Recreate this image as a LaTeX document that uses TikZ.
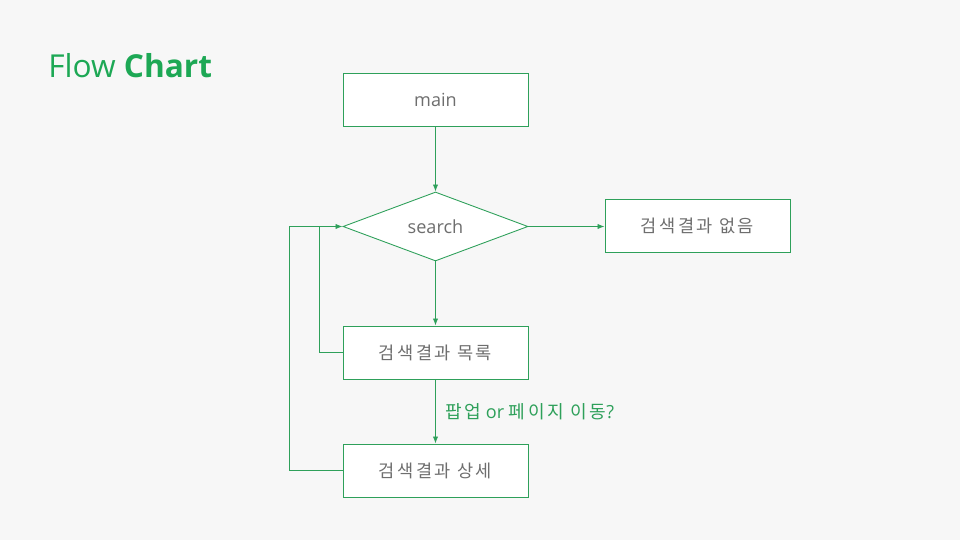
\documentclass[tikz,border=0pt]{standalone}
\usepackage{fontspec}
\setmainfont{Open Sans}
\newfontfamily\kor[LetterSpace=14]{Noto Sans CJK KR}
\usetikzlibrary{arrows.meta,shapes.geometric,calc}

\definecolor{bggray}{HTML}{F7F7F7}
\definecolor{linegreen}{HTML}{2EA05A}
\definecolor{titlegreen}{HTML}{1DA855}
\definecolor{textgray}{HTML}{6E6E6E}

\tikzset{
  box/.style={draw=linegreen, fill=white, line width=0.5pt, minimum width=3.7cm, minimum height=1.06cm, inner sep=0pt, text=textgray, font=\fontsize{10.3}{12}\selectfont},
  decision/.style={diamond, draw=linegreen, fill=white, line width=0.5pt, minimum width=3.7cm, minimum height=1.38cm, aspect=2.68, inner sep=0pt, text=textgray, font=\fontsize{10.3}{12}\selectfont},
  link/.style={draw=linegreen, line width=0.5pt},
  arrow/.style={link, -{Latex[length=4pt,width=3pt]}}
}

\begin{document}
\begin{tikzpicture}[x=0.02cm, y=-0.02cm]

     \useasboundingbox[fill=bggray] (0,0) rectangle (960,540);

     \node[anchor=west, inner sep=0pt, text=titlegreen, font=\fontsize{18}{21}\selectfont] (title) at (48,66) {Flow \textbf{Chart}};

     \node[box] (main) at (435.5,99.5) {main};
     \node[decision] (search) at (435.5,226.5) {search};
     \node[box] (none) at (697.5,225.5) {\kor\fontsize{10}{12}\selectfont 검색결과 없음};
     \node[box] (list) at (435.5,352.5) {\kor\fontsize{10}{12}\selectfont 검색결과 목록};
     \node[box] (detail) at (435.5,470.5) {\kor\fontsize{10}{12}\selectfont 검색결과 상세};

     \coordinate (loop1) at (319,226.5);
     \coordinate (loop2) at (289,226.5);

     \draw[arrow] (main) -- (search);
     \draw[arrow] (search.east) -- (none.west |- search.east);
     \draw[arrow] (search.south) -- (list.north);
     \draw[arrow] (list) -- node[right, text=linegreen, font=\fontsize{10.3}{12}\selectfont, xshift=2pt] {{\kor 팝업}\ or {\kor 페이지 이동}?} (detail);

     \draw[link] (list.west) -| (loop1);
     \draw[link] (detail.west) -| (loop2);
     \draw[arrow] (loop2) -- (search.west);

\end{tikzpicture}
\end{document}
